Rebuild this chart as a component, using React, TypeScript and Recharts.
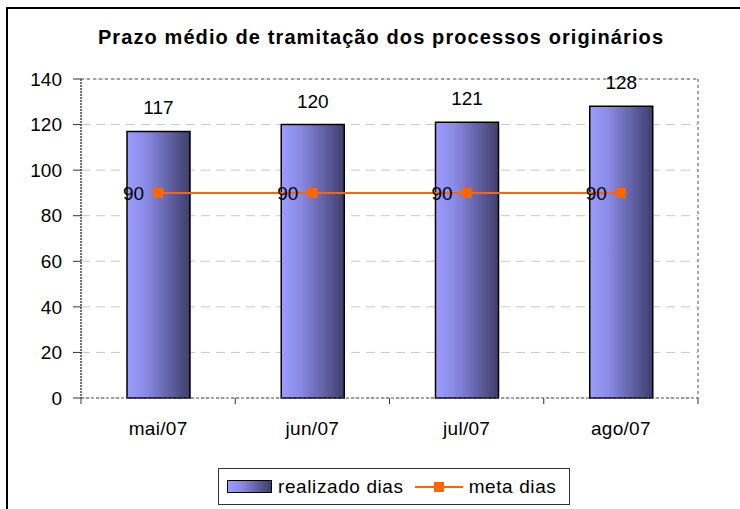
import React from 'react';
import { ComposedChart, Bar, Line, XAxis, YAxis, CartesianGrid, LabelList } from 'recharts';

const months = ['mai/07', 'jun/07', 'jul/07', 'ago/07'];
const realizado = [117, 120, 121, 128];
const meta = [90, 90, 90, 90];
const yTicks = [0, 20, 40, 60, 80, 100, 120, 140];

const data = months.map((m, i) => ({ month: m, realizado: realizado[i], meta: meta[i] }));

const FONT = '"Liberation Sans", Arial, sans-serif';

// category labels + excel-style tick marks between categories
const MonthTick = (props: any) => {
  const { x, y, payload, index } = props;
  const off = payload.offset || 0;
  return (
    <g>
      <line x1={x - off} x2={x - off} y1={y} y2={y + 6} stroke="#333" />
      {index === months.length - 1 && <line x1={x + off} x2={x + off} y1={y} y2={y + 6} stroke="#333" />}
      <text x={x} y={y + 37} textAnchor="middle" fontSize={19} letterSpacing={0.3} fill="#000" fontFamily={FONT}>
        {payload.value}
      </text>
    </g>
  );
};

const Square = (props: any) => {
  const { cx, cy } = props;
  if (cx == null || cy == null) return null;
  return <rect x={cx - 5} y={cy - 5} width={10} height={10} fill="#FF6600" />;
};

export default function App() {
  return (
    <div style={{ position: 'absolute', left: 0, top: 0, width: 740, height: 509, background: '#fff', fontFamily: FONT, overflow: 'hidden' }}>
      <div style={{ position: 'absolute', left: 6, top: 7, width: 760, height: 520, borderTop: '2px solid #000', borderLeft: '2px solid #000' }} />
      <div style={{ position: 'absolute', left: 0, top: 26, width: 762, textAlign: 'center', fontWeight: 'bold', fontSize: 20, letterSpacing: 1.1, color: '#000' }}>
        Prazo médio de tramitação dos processos originários
      </div>
      <ComposedChart width={740} height={509} data={data} margin={{ top: 78, right: 41, bottom: 110, left: 0 }} style={{ position: 'absolute', left: 0, top: 0 }}>
        <defs>
          <linearGradient id="barGrad" x1="0" y1="0" x2="1" y2="0">
            <stop offset="0%" stopColor="#9c9cff" />
            <stop offset="30%" stopColor="#8a8ae6" />
            <stop offset="100%" stopColor="#3e3e6c" />
          </linearGradient>
        </defs>
        <CartesianGrid vertical={false} stroke="#c8c8c8" strokeDasharray="9 6" />
        <XAxis
          dataKey="month"
          height={1}
          tickSize={0}
          tickMargin={0}
          tickLine={false}
          interval={0}
          axisLine={{ stroke: '#555', strokeDasharray: '3 2', strokeWidth: 1.2 }}
          tick={<MonthTick />}
        />
        <XAxis xAxisId="top" orientation="top" height={1} tick={false} tickLine={false} axisLine={{ stroke: '#888', strokeDasharray: '3 3', strokeWidth: 1.5 }} />
        <YAxis
          domain={[0, 140]}
          ticks={yTicks}
          width={81}
          tickSize={8}
          tickMargin={11}
          interval={0}
          tick={{ fontSize: 19, fill: '#000', fontFamily: FONT }}
          tickLine={{ stroke: '#333' }}
          axisLine={{ stroke: '#444', strokeDasharray: '2 1', strokeWidth: 1.5 }}
        />
        <YAxis yAxisId="right" orientation="right" width={1} domain={[0, 140]} tick={false} tickLine={false} axisLine={{ stroke: '#888', strokeDasharray: '3 3', strokeWidth: 1.5 }} />
        <Bar dataKey="realizado" barSize={63} fill="url(#barGrad)" stroke="#000" strokeWidth={1.5} isAnimationActive={false}>
          <LabelList dataKey="realizado" position="top" offset={17} fontSize={19} fill="#000" fontFamily={FONT} />
        </Bar>
        <Line dataKey="meta" stroke="#FF6600" strokeWidth={2} dot={<Square />} activeDot={false} isAnimationActive={false}>
          <LabelList dataKey="meta" position="left" offset={14} fontSize={19} fill="#000" fontFamily={FONT} />
        </Line>
      </ComposedChart>
      <div style={{ position: 'absolute', left: 218, top: 468, width: 350, height: 35, border: '1px solid #333', display: 'flex', alignItems: 'center', fontSize: 19, letterSpacing: 0.6, color: '#000' }}>
        <span style={{ display: 'inline-block', marginLeft: 8, width: 43, height: 11, border: '1px solid #000', background: 'linear-gradient(to right, #9c9cff, #8a8ae6 30%, #3e3e6c)' }} />
        <span style={{ marginLeft: 6 }}>realizado dias</span>
        <svg width={48} height={14} style={{ marginLeft: 11 }}>
          <line x1={0} x2={48} y1={7} y2={7} stroke="#FF6600" strokeWidth={2} />
          <rect x={19} y={2} width={10} height={10} fill="#FF6600" />
        </svg>
        <span style={{ marginLeft: 6 }}>meta dias</span>
      </div>
    </div>
  );
}
